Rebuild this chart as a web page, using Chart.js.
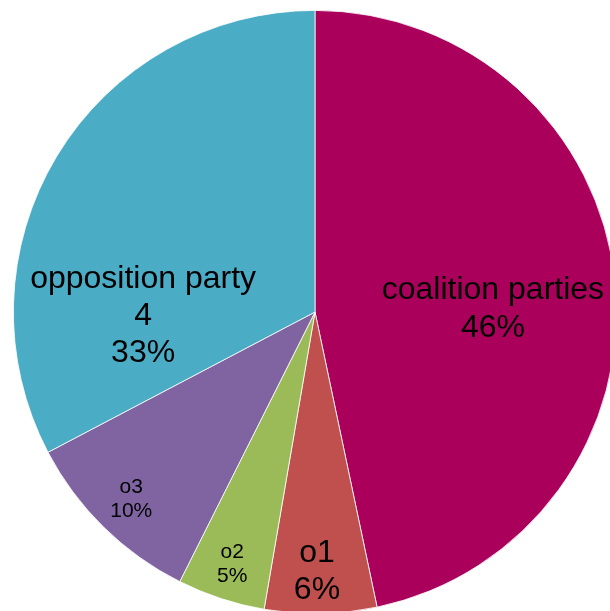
<!DOCTYPE html>
<html>
<head>
<meta charset="utf-8">
<title>Seats</title>
<script src="https://cdn.jsdelivr.net/npm/chart.js@4.4.1/dist/chart.umd.min.js"></script>
<style>
  html, body { margin: 0; padding: 0; background: #fff; overflow: hidden; }
  body { width: 610px; height: 611px; position: relative; }
  #wrap { position: absolute; left: 13px; top: 10px; width: 604px; height: 604px; }
</style>
</head>
<body>
<div id="wrap"><canvas id="pie" width="604" height="604"></canvas></div>
<script>
const categories = ["coalition parties", "o1", "o2", "o3", "opposition party\n4"];
const shares = [46.7, 6.0, 4.7, 9.9, 32.7];
const shareLabels = ["46%", "6%", "5%", "10%", "33%"];
const colors = ["#AA005C", "#C0504D", "#9BBB59", "#8064A2", "#4BACC6"];

// where each label sits: fraction of radius, fraction across the slice angle, font size
const labelRadius = [0.59, 0.86, 0.88, 0.87, 0.57];
const labelAngle = [0.53, 0.53, 0.5, 0.5, 0.224];
const labelSize = [32, 32, 21, 21, 32];

const sliceLabels = {
  id: "sliceLabels",
  afterDatasetsDraw(chart) {
    const ctx = chart.ctx;
    const arcs = chart.getDatasetMeta(0).data;
    ctx.save();
    ctx.fillStyle = "#000";
    ctx.textAlign = "center";
    ctx.textBaseline = "middle";
    arcs.forEach((arc, i) => {
      const { x, y, startAngle, endAngle, outerRadius } = arc.getProps(["x", "y", "startAngle", "endAngle", "outerRadius"], true);
      const a = startAngle + (endAngle - startAngle) * labelAngle[i];
      const r = outerRadius * labelRadius[i];
      const cx = x + Math.cos(a) * r;
      const cy = y + Math.sin(a) * r;
      const lines = categories[i].split("\n").concat([shareLabels[i]]);
      const size = labelSize[i];
      const lh = size * 1.16;
      ctx.font = size + 'px "Liberation Sans", Arial, sans-serif';
      const top = cy - (lines.length - 1) * lh / 2;
      lines.forEach((t, k) => ctx.fillText(t, cx, top + k * lh));
    });
    ctx.restore();
  }
};

new Chart(document.getElementById("pie"), {
  type: "pie",
  data: {
    labels: categories,
    datasets: [{
      data: shares,
      backgroundColor: colors,
      borderColor: "#ffffff",
      borderWidth: 0.8
    }]
  },
  options: {
    responsive: false,
    animation: false,
    layout: { padding: 0 },
    plugins: {
      legend: { display: false },
      tooltip: { enabled: false }
    }
  },
  plugins: [sliceLabels]
});
</script>
</body>
</html>
